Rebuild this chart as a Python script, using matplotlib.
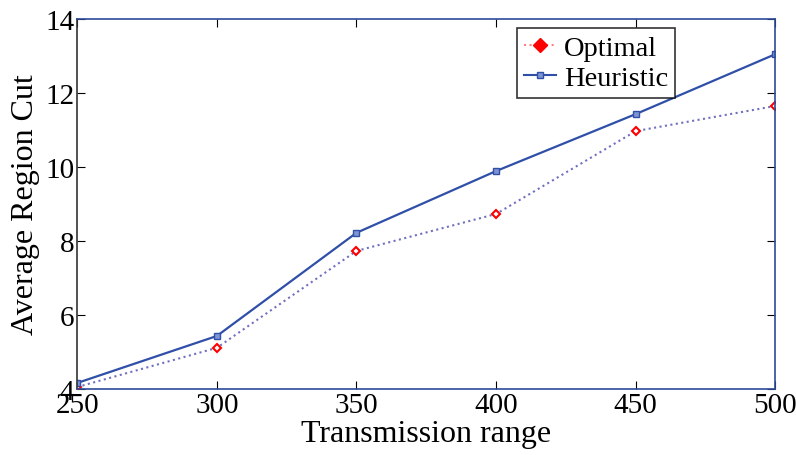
import numpy as np
import matplotlib.pyplot as plt

# datos
rango = [250, 300, 350, 400, 450, 500]
optimal = [4.05, 5.11, 7.73, 8.73, 10.97, 11.65]
heuristic = [4.16, 5.43, 8.22, 9.89, 11.43, 13.05]

plt.rcParams['font.family'] = ['Liberation Serif', 'DejaVu Serif']

fig = plt.figure(figsize=(7.96, 4.56), dpi=100)
ax = fig.add_axes([0.097, 0.145, 0.877, 0.811])

ax.plot(rango, optimal, color='#7070c0', linestyle=':', linewidth=1.5,
        marker='D', markersize=4, markerfacecolor='white', markeredgecolor='red',
        markeredgewidth=1.5, label='Optimal')
ax.plot(rango, heuristic, color='#2f4fa8', linestyle='-', linewidth=1.6,
        marker='s', markersize=4, markerfacecolor='#7f95d0', markeredgecolor='#2f4fa8',
        label='Heuristic')

ax.set_xlim(250, 500)
ax.set_ylim(4, 14)
ax.set_xticks(rango)
ax.set_yticks([4, 6, 8, 10, 12, 14])
ax.tick_params(direction='in', top=True, right=True, labelsize=21, length=6, pad=2)
for s in ax.spines.values():
    s.set_color('#2e4a9a')
    s.set_linewidth(1.2)
ax.spines['left'].set_color('#333333')

ax.set_xlabel('Transmission range', fontsize=23, labelpad=1)
ax.set_ylabel('Average Region Cut', fontsize=23, labelpad=4)

# leyenda con marcador rojo relleno como en el original
h1 = plt.Line2D([], [], color='#ff8080', linestyle=':', marker='D', markersize=7,
                markerfacecolor='red', markeredgecolor='red')
h2 = plt.Line2D([], [], color='#2f4fa8', linestyle='-', marker='s', markersize=4,
                markerfacecolor='#7f95d0', markeredgecolor='#2f4fa8')
leg = ax.legend([h1, h2], ['Optimal', 'Heuristic'], loc='upper right',
                bbox_to_anchor=(0.857, 0.977), fontsize=20.5, fancybox=False,
                edgecolor='black', handlelength=1.1, handletextpad=0.3,
                borderpad=0.25, labelspacing=0.15, borderaxespad=0)
leg.get_frame().set_linewidth(1.2)

fig.savefig('out.png', dpi=100)
